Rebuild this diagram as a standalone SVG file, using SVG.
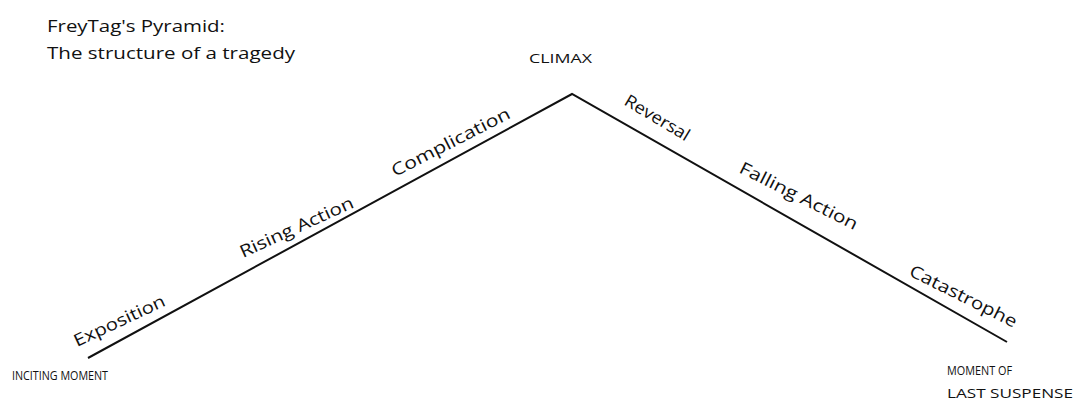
<svg xmlns="http://www.w3.org/2000/svg" width="1078" height="401" viewBox="0 0 1078 401">
<style>
text{font-family:"Open Sans","Liberation Sans",sans-serif;fill:#111;}
.title{font-size:17px;}
.lbl{font-size:17px;}
.cap{font-size:13px;}
.line{fill:none;stroke:#111;stroke-width:2;stroke-linejoin:miter;}
</style>
<rect width="1078" height="401" fill="#fff"/>
<g id="title">
<text class="title" x="47" y="32" textLength="178" lengthAdjust="spacingAndGlyphs">FreyTag's Pyramid:</text>
<text class="title" x="47" y="59" textLength="248" lengthAdjust="spacingAndGlyphs">The structure of a tragedy</text>
</g>
<g id="connectors">
<polyline class="line" points="88,358 572,94 1007,342"/>
</g>
<g id="climax"><text class="cap" x="529" y="63" textLength="63" lengthAdjust="spacingAndGlyphs">CLIMAX</text></g>
<g id="inciting"><text class="cap" x="12" y="380" textLength="96" lengthAdjust="spacingAndGlyphs">INCITING MOMENT</text></g>
<g id="last-suspense">
<text class="cap" x="947" y="375" textLength="65" lengthAdjust="spacingAndGlyphs">MOMENT OF</text>
<text class="cap" x="947" y="398" textLength="126" lengthAdjust="spacingAndGlyphs">LAST SUSPENSE</text>
</g>
<g id="exposition"><text class="lbl" transform="translate(77,347) rotate(-25)" textLength="99" lengthAdjust="spacingAndGlyphs">Exposition</text></g>
<g id="rising-action"><text class="lbl" transform="translate(243,258) rotate(-24.5)" textLength="123" lengthAdjust="spacingAndGlyphs">Rising Action</text></g>
<g id="complication"><text class="lbl" transform="translate(395,177) rotate(-27)" textLength="131" lengthAdjust="spacingAndGlyphs">Complication</text></g>
<g id="reversal"><text class="lbl" transform="translate(623,104) rotate(31)" textLength="73" lengthAdjust="spacingAndGlyphs">Reversal</text></g>
<g id="falling-action"><text class="lbl" transform="translate(738,172) rotate(26.6)" textLength="130" lengthAdjust="spacingAndGlyphs">Falling Action</text></g>
<g id="catastrophe"><text class="lbl" transform="translate(908,275) rotate(26.6)" textLength="118" lengthAdjust="spacingAndGlyphs">Catastrophe</text></g>
</svg>
